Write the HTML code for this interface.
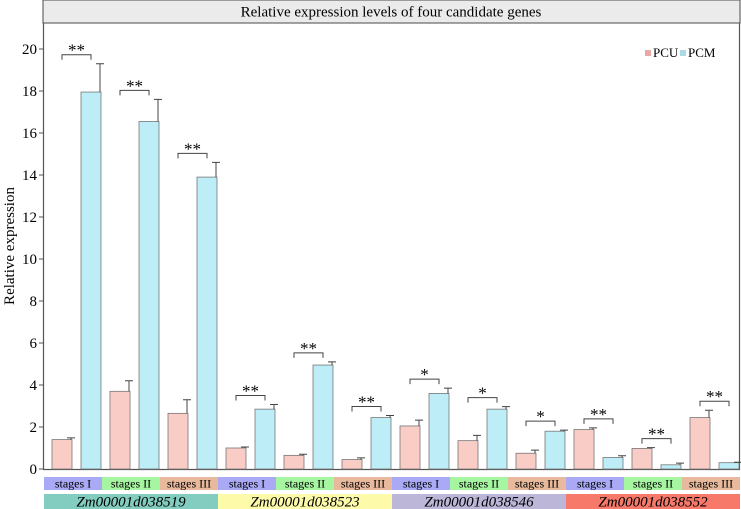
<!DOCTYPE html>
<html><head><meta charset="utf-8"><style>
body{margin:0;background:#fff;}
svg{display:block;}
svg text{font-family:"Liberation Serif","DejaVu Serif","Times New Roman",serif;}
</style></head><body>
<svg id="chart" width="741" height="509" viewBox="0 0 741 509">
<rect x="43" y="0" width="697" height="23" fill="#ebebeb" stroke="#666" stroke-width="1.2"/>
<text x="391" y="16.5" font-size="15" text-anchor="middle">Relative expression levels of four candidate genes</text>
<line x1="739.5" y1="23" x2="739.5" y2="469" stroke="#555" stroke-width="1.2"/>
<line x1="43.5" y1="23" x2="43.5" y2="469" stroke="#555" stroke-width="1.2"/>
<line x1="43" y1="469.5" x2="740" y2="469.5" stroke="#555" stroke-width="1.2"/>
<text transform="translate(14,246) rotate(-90)" font-size="15" text-anchor="middle">Relative expression</text>
<g id="yt"></g><g id="bars"></g><g id="strips"></g>
<rect x="645" y="50" width="6" height="6" fill="#e8a9a6"/>
<text x="653" y="57" font-size="13">PCU</text>
<rect x="680" y="50" width="6" height="6" fill="#a9dbe6"/>
<text x="688" y="57" font-size="13">PCM</text>
</svg>
<script>
const yTicks=[0,2,4,6,8,10,12,14,16,18,20];
const stages=["stages I","stages II","stages III","stages I","stages II","stages III","stages I","stages II","stages III","stages I","stages II","stages III"];
const genes=["Zm00001d038519","Zm00001d038523","Zm00001d038546","Zm00001d038552"];
const pcu=[1.4,3.7,2.65,1.0,0.65,0.45,2.05,1.35,0.75,1.88,0.98,2.45];
const pcuErr=[0.08,0.5,0.65,0.05,0.05,0.08,0.28,0.25,0.15,0.08,0.04,0.35];
const pcm=[17.95,16.55,13.9,2.85,4.95,2.45,3.6,2.85,1.8,0.55,0.2,0.3];
const pcmErr=[1.35,1.05,0.7,0.22,0.15,0.1,0.25,0.12,0.05,0.08,0.08,0.02];
const sig=["**","**","**","**","**","**","*","*","*","**","**","**"];
const NS="http://www.w3.org/2000/svg";
const y=v=>469-v*21, x0=44, sw=58;
function mk(p,t,a){const e=document.createElementNS(NS,t);for(const k in a)e.setAttribute(k,a[k]);p.appendChild(e);return e;}
const yt=document.getElementById('yt');
yTicks.forEach(v=>{
 const l=mk(yt,'line',{x1:39,x2:43,y1:y(v),y2:y(v),stroke:'#555'});
 
 
 const t=mk(yt,'text',{x:37,y:y(v)+5,'font-size':15,'text-anchor':'end'});t.textContent=v;
 
 
});
const bg=document.getElementById('bars');
function bar(cx,v,e,fill,nm){
 const r=mk(bg,'rect',{x:cx-10,y:y(v),width:20,height:y(0)-y(v),fill:fill,stroke:'#777','stroke-width':0.8});
 
 
 const el=mk(bg,'path',{d:`M${cx+9} ${y(v)}V${y(v+e)}M${cx+5} ${y(v+e)}H${cx+13}`,stroke:'#444',fill:'none','stroke-width':1});
 
 
}
stages.forEach((s,i)=>{
 const a=x0+i*sw+18, b=x0+i*sw+47;
 bar(a,pcu[i],pcuErr[i],'#f9ccc6','bar-pcu');
 bar(b,pcm[i],pcmErr[i],'#bdeef8','bar-pcm');
 const top=Math.max(pcu[i]+pcuErr[i],pcm[i]+pcmErr[i]);
 const by=y(top)-9;
 const br=mk(bg,'path',{d:`M${a} ${by+5}V${by}H${b}V${by+5}`,stroke:'#444',fill:'none','stroke-width':1});
 
 
 const st=mk(bg,'text',{x:(a+b)/2,y:by+1,'font-size':17,'text-anchor':'middle'});st.textContent=sig[i];
 
 
});
const sg=document.getElementById('strips');
const sc=['#a9a9f5','#a6f5a0','#e8b99c'];
stages.forEach((s,i)=>{
 const r=mk(sg,'rect',{x:x0+i*sw,y:477,width:sw,height:13,fill:sc[i%3]});
 
 
 const t=mk(sg,'text',{x:x0+i*sw+sw/2,y:487.5,'font-size':12,'text-anchor':'middle'});t.textContent=s;
 
 
});
const gc=['#82cdbf','#fdfbaa','#bcb6d8','#f7796a'];
genes.forEach((g,i)=>{
 const r=mk(sg,'rect',{x:x0+i*sw*3,y:494,width:sw*3,height:15,fill:gc[i]});
 
 
 const t=mk(sg,'text',{x:x0+i*sw*3+sw*1.5,y:506.5,'font-size':15,'font-style':'italic','text-anchor':'middle'});t.textContent=g;
 
 
});
</script>
</body></html>
